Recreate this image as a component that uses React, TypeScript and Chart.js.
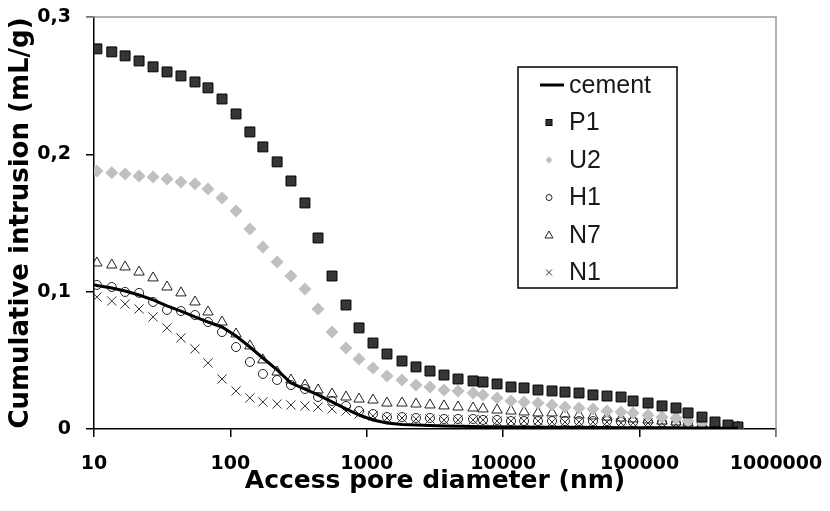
import React, { useEffect, useRef } from 'react';
import { Chart, registerables } from 'chart.js';

Chart.register(...registerables);

// ---------- DATA ----------
const X_TICKS = [10, 100, 1000, 10000, 100000, 1000000];
const Y_TICKS = [0, 0.1, 0.2, 0.3];
const SERIES_NAMES = ['cement', 'P1', 'U2', 'H1', 'N7', 'N1'];

// access pore diameter (nm) for measured samples
const DIAMETER_NM = [
  10.5, 13.5, 16.9, 21.4, 27.1, 34.3, 43.4, 55.0, 68.5, 86.8,
  110, 139, 173, 220, 278, 352, 439, 556, 704, 877,
  1110, 1406, 1812, 2295, 2905, 3681, 4665, 6010, 7113, 9016,
  11410, 14220, 17990, 22800, 28380, 35970, 45520, 57680, 73100, 89540,
  115300, 146000, 184900, 226500, 286600, 357100, 444600, 526000,
];

const CEMENT_DIAMETER_NM = [
  10, 10.5, 13.5, 16.9, 21.4, 27.1, 34.3, 43.4, 55.0, 68.5, 86.8,
  110, 139, 173, 220, 278, 352, 439, 556, 704, 877,
  1110, 1406, 1812, 2295, 2905, 3681, 4665, 6010, 7113, 9016,
  11410, 14220, 17990, 22800, 28380, 35970, 45520, 57680, 73100, 89540,
  115300, 146000, 184900, 226500, 286600, 357100, 444600, 526000,
];
const CEMENT = [
  0.105, 0.1045, 0.1027, 0.1005, 0.0976, 0.094, 0.0896, 0.0859, 0.0816, 0.0779, 0.0743,
  0.0677, 0.0597, 0.0517, 0.043, 0.0335, 0.0291, 0.0248, 0.0197, 0.0146, 0.0102,
  0.0066, 0.0044, 0.0032, 0.0029, 0.0025, 0.0022, 0.002, 0.0018, 0.0017, 0.0016,
  0.0015, 0.0014, 0.0013, 0.0013, 0.0012, 0.0012, 0.0011, 0.0011, 0.001, 0.001,
  0.001, 0.0009, 0.0009, 0.0008, 0.0008, 0.0007, 0.0006, 0.0005,
];

const P1 = [
  0.2768, 0.2746, 0.2717, 0.268, 0.2637, 0.26, 0.2571, 0.2527, 0.2484, 0.2403,
  0.2294, 0.2163, 0.2054, 0.1945, 0.1806, 0.1646, 0.1391, 0.1114, 0.0903, 0.0736,
  0.0626, 0.0546, 0.0495, 0.0452, 0.0422, 0.0393, 0.0364, 0.035, 0.0342, 0.0328,
  0.0306, 0.0299, 0.0284, 0.0277, 0.0269, 0.0262, 0.0248, 0.024, 0.0233, 0.0204,
  0.0189, 0.0168, 0.0153, 0.0117, 0.0087, 0.0051, 0.0029, 0.0015,
];

const U2 = [
  0.1879, 0.1865, 0.1857, 0.1843, 0.1835, 0.1821, 0.1799, 0.1785, 0.1748, 0.1682,
  0.1588, 0.1457, 0.1326, 0.1216, 0.1114, 0.102, 0.0874, 0.0706, 0.059, 0.051,
  0.0444, 0.0386, 0.0357, 0.032, 0.0306, 0.0284, 0.0277, 0.0262, 0.0248, 0.0226,
  0.0204, 0.0197, 0.0189, 0.0175, 0.016, 0.0153, 0.0146, 0.0131, 0.0124, 0.0117,
  0.0102, 0.0087, 0.008, 0.0058, 0.0044, 0.0029, 0.0015, 0.0007,
];

const H1 = [
  0.1049, 0.1034, 0.0998, 0.0991, 0.0925, 0.0867, 0.0859, 0.083, 0.0779, 0.0706,
  0.0597, 0.0488, 0.0401, 0.0357, 0.032, 0.0291, 0.0233, 0.0204, 0.0168, 0.0131,
  0.0109, 0.0087, 0.0087, 0.008, 0.008, 0.0073, 0.0073, 0.0073, 0.0066, 0.0066,
  0.0058, 0.0058, 0.0058, 0.0058, 0.0058, 0.0058, 0.0058, 0.0058, 0.0051, 0.0051,
  0.0051, 0.0051, 0.0044, 0.0044, 0.0036, 0.0029, 0.0022, 0.0015,
];

const N7 = [
  0.1209, 0.1194, 0.118, 0.1143, 0.11, 0.1034, 0.0991, 0.0925, 0.0852, 0.0779,
  0.0692, 0.0605, 0.0503, 0.0415, 0.0357, 0.032, 0.0284, 0.0255, 0.0233, 0.0218,
  0.0211, 0.0189, 0.0189, 0.0182, 0.0175, 0.0168, 0.016, 0.0153, 0.0146, 0.0138,
  0.0131, 0.0124, 0.0117, 0.0117, 0.0109, 0.0102, 0.0095, 0.0087, 0.008, 0.0073,
  0.0066, 0.0058, 0.0051, 0.0044, 0.0036, 0.0029, 0.0022, 0.0015,
];

const N1 = [
  0.0961, 0.0932, 0.091, 0.0874, 0.0816, 0.0736, 0.0663, 0.0583, 0.0481, 0.0364,
  0.0277, 0.0226, 0.0197, 0.0182, 0.0175, 0.0168, 0.016, 0.0146, 0.0131, 0.0109,
  0.0095, 0.008, 0.008, 0.0073, 0.0073, 0.0066, 0.0066, 0.0066, 0.0066, 0.0058,
  0.0058, 0.0058, 0.0058, 0.0051, 0.0051, 0.0051, 0.0051, 0.0051, 0.0044, 0.0044,
  0.0044, 0.0044, 0.0036, 0.0036, 0.0029, 0.0022, 0.0015, 0.0007,
];

// ---------- HELPERS ----------
const toPoints = (xs: number[], ys: number[]) => ys.map((y, i) => ({ x: xs[i], y }));

const TICK_FONT = { family: '"DejaVu Sans", sans-serif', size: 19, weight: 'bold' as const };
const X_TITLE_FONT = { family: '"DejaVu Sans", sans-serif', size: 25, weight: 'bold' as const };
const Y_TITLE_FONT = { family: '"DejaVu Sans", sans-serif', size: 26, weight: 'bold' as const };

type MarkerKind = 'line' | 'rect' | 'diamond' | 'circle' | 'triangle' | 'cross';
const LEGEND_MARKERS: MarkerKind[] = ['line', 'rect', 'diamond', 'circle', 'triangle', 'cross'];

function drawMarker(ctx: CanvasRenderingContext2D, kind: MarkerKind, x: number, y: number) {
  ctx.save();
  ctx.lineWidth = 1;
  switch (kind) {
    case 'line':
      ctx.strokeStyle = '#000';
      ctx.lineWidth = 3;
      ctx.beginPath();
      ctx.moveTo(x - 9, y);
      ctx.lineTo(x + 15, y);
      ctx.stroke();
      break;
    case 'rect':
      ctx.fillStyle = '#333';
      ctx.strokeStyle = '#000';
      ctx.fillRect(x - 3, y - 3, 6, 6);
      ctx.strokeRect(x - 3, y - 3, 6, 6);
      break;
    case 'diamond':
      ctx.fillStyle = '#c0c0c0';
      ctx.beginPath();
      ctx.moveTo(x, y - 3.5);
      ctx.lineTo(x + 3.5, y);
      ctx.lineTo(x, y + 3.5);
      ctx.lineTo(x - 3.5, y);
      ctx.closePath();
      ctx.fill();
      break;
    case 'circle':
      ctx.strokeStyle = '#222';
      ctx.beginPath();
      ctx.arc(x, y, 3, 0, Math.PI * 2);
      ctx.stroke();
      break;
    case 'triangle':
      ctx.strokeStyle = '#222';
      ctx.beginPath();
      ctx.moveTo(x, y - 4);
      ctx.lineTo(x + 4, y + 3);
      ctx.lineTo(x - 4, y + 3);
      ctx.closePath();
      ctx.stroke();
      break;
    case 'cross':
      ctx.strokeStyle = '#333';
      ctx.beginPath();
      ctx.moveTo(x - 3, y - 3);
      ctx.lineTo(x + 3, y + 3);
      ctx.moveTo(x + 3, y - 3);
      ctx.lineTo(x - 3, y + 3);
      ctx.stroke();
      break;
  }
  ctx.restore();
}

// grey plot-area frame on top and right
const plotFrame = {
  id: 'plotFrame',
  beforeDatasetsDraw(chart: any) {
    const { ctx, chartArea } = chart;
    ctx.save();
    ctx.strokeStyle = '#9a9a9a';
    ctx.lineWidth = 1.5;
    ctx.beginPath();
    ctx.moveTo(chartArea.left - 8, chartArea.top);
    ctx.lineTo(chartArea.right, chartArea.top);
    ctx.lineTo(chartArea.right, chartArea.bottom + 8);
    ctx.stroke();
    ctx.restore();
  },
};

const boxLegend = {
  id: 'boxLegend',
  afterDatasetsDraw(chart: any) {
    const ctx: CanvasRenderingContext2D = chart.ctx;
    const bx = 518, by = 67, bw = 159, bh = 221;
    ctx.save();
    ctx.fillStyle = '#fff';
    ctx.fillRect(bx, by, bw, bh);
    ctx.strokeStyle = '#000';
    ctx.lineWidth = 1.5;
    ctx.strokeRect(bx, by, bw, bh);
    ctx.font = '25px "Liberation Sans", Arial, sans-serif';
    ctx.textBaseline = 'middle';
    ctx.textAlign = 'left';
    SERIES_NAMES.forEach((name, i) => {
      const y = by + 18 + i * 37.5;
      drawMarker(ctx, LEGEND_MARKERS[i], 549, y);
      ctx.fillStyle = '#1a1a1a';
      ctx.fillText(name, 569, y + 1);
    });
    ctx.restore();
  },
};

export default function App() {
  const ref = useRef<HTMLCanvasElement>(null);

  useEffect(() => {
    const canvas = ref.current;
    if (!canvas) return;
    const chart = new Chart(canvas, {
      type: 'scatter',
      data: {
        datasets: [
          {
            label: SERIES_NAMES[0],
            data: toPoints(CEMENT_DIAMETER_NM, CEMENT),
            showLine: true,
            borderColor: '#000',
            borderWidth: 3,
            pointRadius: 0,
            tension: 0,
          },
          {
            label: SERIES_NAMES[1],
            data: toPoints(DIAMETER_NM, P1),
            pointStyle: 'rect',
            pointRadius: 7,
            backgroundColor: '#363636',
            borderColor: '#000',
            borderWidth: 1,
          },
          {
            label: SERIES_NAMES[2],
            data: toPoints(DIAMETER_NM, U2),
            pointStyle: 'rectRot',
            pointRadius: 6.5,
            backgroundColor: '#c0c0c0',
            borderColor: '#c0c0c0',
            borderWidth: 0,
          },
          {
            label: SERIES_NAMES[3],
            data: toPoints(DIAMETER_NM, H1),
            pointStyle: 'circle',
            pointRadius: 4.5,
            backgroundColor: 'rgba(0,0,0,0)',
            borderColor: '#222',
            borderWidth: 1,
          },
          {
            label: SERIES_NAMES[4],
            data: toPoints(DIAMETER_NM, N7),
            pointStyle: 'triangle',
            pointRadius: 6,
            backgroundColor: 'rgba(0,0,0,0)',
            borderColor: '#222',
            borderWidth: 1,
          },
          {
            label: SERIES_NAMES[5],
            data: toPoints(DIAMETER_NM, N1),
            pointStyle: 'crossRot',
            pointRadius: 6.5,
            backgroundColor: 'rgba(0,0,0,0)',
            borderColor: '#333',
            borderWidth: 1,
          },
        ],
      },
      options: {
        animation: false,
        responsive: false,
        devicePixelRatio: 1,
        layout: { padding: { left: 0, top: 17, right: 54, bottom: 0 } },
        plugins: {
          legend: { display: false },
          tooltip: { enabled: false },
        },
        scales: {
          x: {
            type: 'logarithmic',
            min: X_TICKS[0],
            max: X_TICKS[X_TICKS.length - 1],
            afterBuildTicks: (scale: any) => {
              scale.ticks = X_TICKS.map((v) => ({ value: v }));
            },
            afterFit: (scale: any) => {
              scale.height = 82;
              scale.paddingLeft = 0;
              scale.paddingRight = 0;
            },
            ticks: {
              autoSkip: false,
              maxRotation: 0,
              color: '#000',
              font: TICK_FONT,
              padding: 16,
              callback: (v: any) => String(v),
            },
            grid: {
              drawOnChartArea: false,
              color: '#000',
              tickColor: '#000',
              tickLength: 8,
              lineWidth: 1.5,
            },
            border: { display: true, color: '#000', width: 1.5 },
            title: {
              display: true,
              text: 'Access pore diameter (nm)',
              color: '#000',
              font: X_TITLE_FONT,
              padding: { top: 0, bottom: 15 },
            },
          },
          y: {
            type: 'linear',
            min: Y_TICKS[0],
            max: Y_TICKS[Y_TICKS.length - 1],
            afterBuildTicks: (scale: any) => {
              scale.ticks = Y_TICKS.map((v) => ({ value: v }));
            },
            afterFit: (scale: any) => {
              scale.width = 94;
              scale.paddingTop = 0;
              scale.paddingBottom = 0;
            },
            ticks: {
              color: '#000',
              font: TICK_FONT,
              padding: 15,
              callback: (v: any) => {
                const n = Math.round(Number(v) * 10) / 10;
                return n === 0 ? '0' : n.toFixed(1).replace('.', ',');
              },
            },
            grid: {
              drawOnChartArea: false,
              color: '#000',
              tickColor: '#000',
              tickLength: 8,
              lineWidth: 1.5,
            },
            border: { display: true, color: '#000', width: 1.5 },
            title: {
              display: true,
              text: 'Cumulative intrusion (mL/g)',
              color: '#000',
              font: Y_TITLE_FONT,
              padding: { top: 6, bottom: 0 },
            },
          },
        },
      },
      plugins: [plotFrame, boxLegend],
    } as any);
    return () => chart.destroy();
  }, []);

  return (
    <div style={{ position: 'fixed', left: 0, top: 0, width: 830, height: 511, background: '#fff' }}>
      <canvas ref={ref} width={830} height={511} style={{ display: 'block', width: 830, height: 511 }} />
    </div>
  );
}
